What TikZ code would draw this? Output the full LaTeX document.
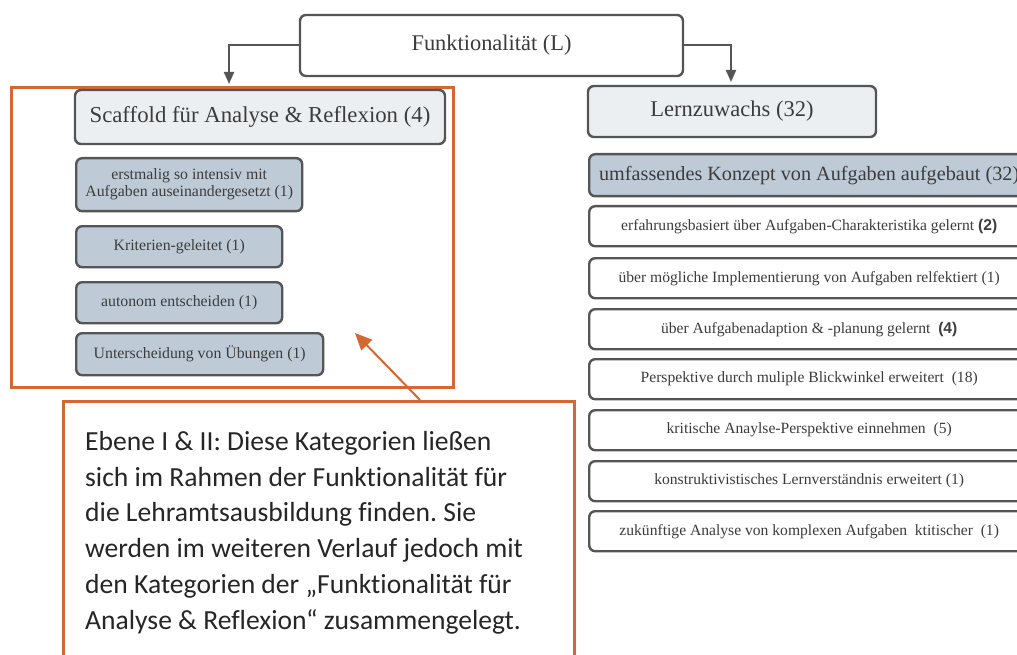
\documentclass[tikz,border=0pt]{standalone}
\usepackage{fontspec}
\setmainfont{Liberation Serif}
\newfontfamily\calfont[Ligatures=NoCommon]{Carlito}
\newfontfamily\sansnum{Liberation Sans}
\usetikzlibrary{arrows.meta}
\frenchspacing
\definecolor{boxline}{RGB}{85,85,85}
\definecolor{txtgray}{RGB}{60,60,60}
\definecolor{lightfill}{RGB}{236,239,242}
\definecolor{bluefill}{RGB}{190,203,214}
\definecolor{orangeline}{RGB}{212,104,50}
\tikzset{
  basebox/.style={draw=boxline, line width=2.4pt, rounded corners=6pt, text=txtgray, inner sep=2pt},
  lightbox/.style={basebox, fill=lightfill},
  bluebox/.style={basebox, fill=bluefill, font=\fontsize{15.8}{17}\selectfont},
  whitebox/.style={basebox, fill=white, font=\fontsize{15.6}{17}\selectfont, minimum width=440, minimum height=40},
  conn/.style={draw=boxline, line width=2pt, -{Triangle[length=12pt,width=10pt]}},
  orframe/.style={draw=orangeline, line width=3pt},
  orarrow/.style={draw=orangeline, line width=2pt, -{Triangle[length=17pt,width=15pt]}}
}
\begin{document}
\begin{tikzpicture}[x=1pt,y=-1pt]
\useasboundingbox (0,0) rectangle (1017,655);
\clip (0,0) rectangle (1017,655);
\fill[white] (0,0) rectangle (1017,655);

% top node
\node[basebox, fill=white, minimum width=383, minimum height=61, font=\fontsize{22.4}{26}\selectfont] (top) at (491.5,45.5) {Funktionalität (L)};

% left side
\node[orframe, minimum width=442, minimum height=300, anchor=north west, inner sep=0pt] (frame) at (10,86) {};
\node[lightbox, minimum width=370, minimum height=54, font=\fontsize{22.8}{26}\selectfont] (scaf) at (260,117) {Scaffold für Analyse \& Reflexion (4)};
\node[bluebox, minimum width=226, minimum height=53, align=center, anchor=north west] (s1) at (75,157) {erstmalig so intensiv mit\\Aufgaben auseinandergesetzt (1)};
\node[bluebox, minimum width=206, minimum height=41, anchor=north west] (s2) at (75,225) {Kriterien-geleitet (1)};
\node[bluebox, minimum width=206, minimum height=41, anchor=north west] (s3) at (75,281) {autonom entscheiden (1)};
\node[bluebox, minimum width=247, minimum height=42, anchor=north west] (s4) at (75,332) {Unterscheidung von Übungen (1)};

% right side
\node[lightbox, minimum width=288, minimum height=51, font=\fontsize{22.5}{26}\selectfont] (lern) at (732,111.5) {Lernzuwachs (32)};
\node[bluebox, minimum width=440, minimum height=42, anchor=north west, font=\fontsize{20.2}{24}\selectfont] (konz) at (588,153) {umfassendes Konzept von Aufgaben aufgebaut (32)};
\node[whitebox, anchor=north west] (r1) at (588,205) {erfahrungsbasiert über Aufgaben-Charakteristika gelernt {\sansnum\bfseries(2)}};
\node[whitebox, anchor=north west] (r2) at (588,257) {über mögliche Implementierung von Aufgaben relfektiert (1)};
\node[whitebox, anchor=north west] (r3) at (588,308) {über Aufgabenadaption \& -planung gelernt\ \ {\sansnum\bfseries(4)}};
\node[whitebox, anchor=north west] (r4) at (588,358) {Perspektive durch muliple Blickwinkel erweitert\ \ (18)};
\node[whitebox, anchor=north west] (r5) at (588,409) {kritische Anaylse-Perspektive einnehmen\ \ (5)};
\node[whitebox, anchor=north west] (r6) at (588,460) {konstruktivistisches Lernverständnis erweitert (1)};
\node[whitebox, anchor=north west] (r7) at (588,510) {zukünftige Analyse von komplexen Aufgaben\ \ ktitischer\ \ (1)};

% connectors
\coordinate (la) at (229,84);
\coordinate (ra) at (731,82);
\draw[conn] (top.west) -| (la);
\draw[conn] (top.east) -| (ra);

% callout
\node[orframe, minimum width=511, minimum height=280, anchor=north west, inner sep=0pt] (note) at (62,400) {};
\node[anchor=north west, inner sep=0pt, align=left, text=black!85, font=\calfont\fontsize{27.6}{35.8}\selectfont] (notetxt) at (85,431) {Ebene I \& II: Diese Kategorien ließen\\sich im Rahmen der Funktionalität für\\die Lehramtsausbildung finden. Sie\\werden im weiteren Verlauf jedoch mit\\den Kategorien der „Funktionalität für\\Analyse \& Reflexion“ zusammengelegt.};
\coordinate (nstart) at (420,400);
\coordinate (ntip) at (355,333);
\draw[orarrow] (nstart) -- (ntip);
\end{tikzpicture}
\end{document}
